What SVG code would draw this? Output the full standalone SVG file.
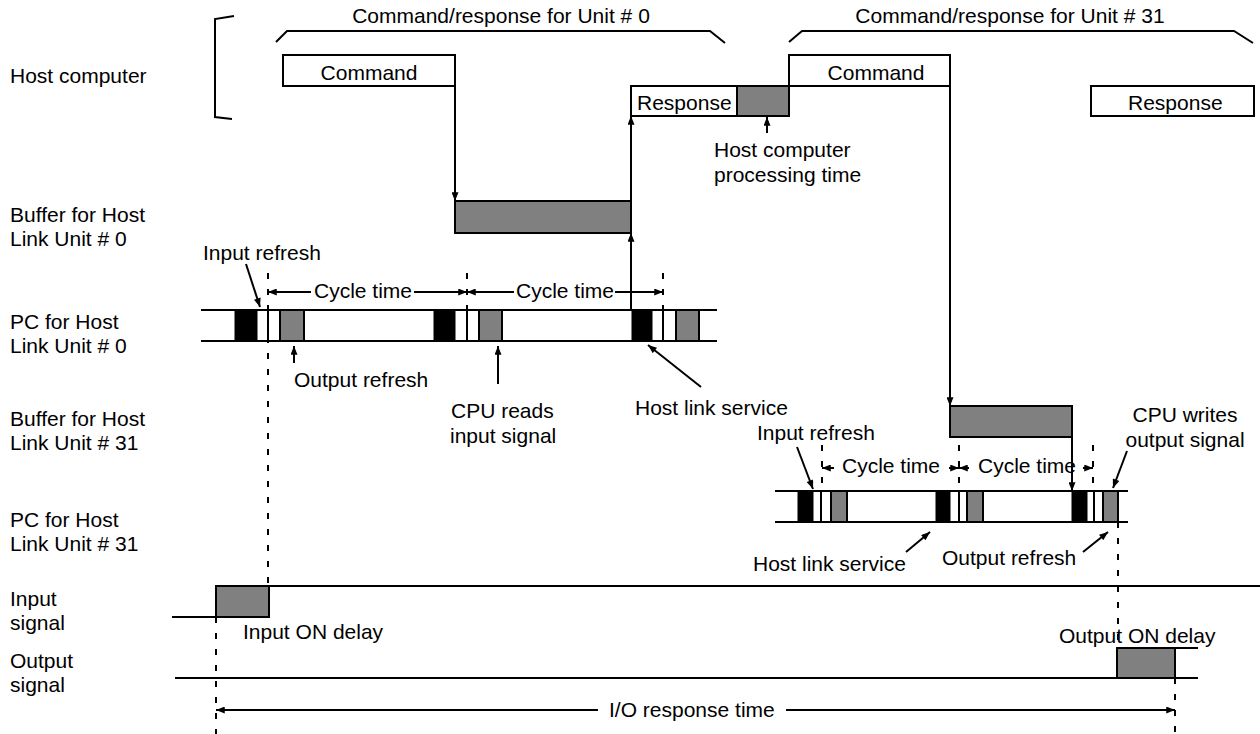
<svg xmlns="http://www.w3.org/2000/svg" width="1260" height="734" viewBox="0 0 1260 734">
<defs>
<marker id="ah" viewBox="0 0 10 8" refX="10" refY="4" markerWidth="10" markerHeight="7" markerUnits="userSpaceOnUse" orient="auto"><path d="M0,0 L10,4 L0,8 z" fill="#000"/></marker>
</defs>
<style>
text{font-family:"Liberation Sans",Arial,sans-serif;font-size:21px;fill:#000}
.mid{text-anchor:middle}
.ln{stroke:#000;stroke-width:2;fill:none}
.thin{stroke:#000;stroke-width:1.5;fill:none}
.box{fill:#fff;stroke:#000;stroke-width:2}
.grey{fill:#808080;stroke:#000;stroke-width:2}
.blk{fill:#000;stroke:#000;stroke-width:1}
.dash{stroke:#000;stroke-width:2;stroke-dasharray:6 10;fill:none}
.arr{stroke:#000;stroke-width:2;fill:none;marker-end:url(#ah)}
</style>
<rect x="0" y="0" width="1260" height="734" fill="#fff"/>

<g id="row-labels">
<text x="10" y="83">Host computer</text>
<text x="10" y="222">Buffer for Host</text><text x="10" y="246">Link Unit # 0</text>
<text x="10" y="329">PC for Host</text><text x="10" y="353">Link Unit # 0</text>
<text x="10" y="426">Buffer for Host</text><text x="10" y="450">Link Unit # 31</text>
<text x="10" y="527">PC for Host</text><text x="10" y="551">Link Unit # 31</text>
<text x="10" y="606">Input</text><text x="10" y="630">signal</text>
<text x="10" y="668">Output</text><text x="10" y="692">signal</text>
</g>

<g id="host-bracket">
<polyline class="ln" points="234,16 215,19 215,117 232,119"/>
</g>

<g id="brace-unit0">
<polyline class="ln" points="276,42 287,31 710,31 725,43"/>
<text class="mid" x="501" y="23">Command/response for Unit # 0</text>
</g>
<g id="brace-unit31">
<polyline class="ln" points="789,42 802,31 1234,31 1253,43"/>
<text class="mid" x="1010" y="23">Command/response for Unit # 31</text>
</g>

<g id="command0">
<rect class="box" x="283" y="55" width="172" height="31"/>
<text class="mid" x="369" y="80">Command</text>
</g>
<g id="response0">
<rect class="box" x="631" y="86" width="106" height="30"/>
<text x="637" y="110">Response</text>
</g>
<g id="host-processing">
<rect class="grey" x="737" y="86" width="52" height="30"/>
<text x="714" y="157">Host computer</text>
<text x="714" y="182">processing time</text>
</g>
<g id="command31">
<rect class="box" x="789" y="55" width="161" height="31"/>
<text class="mid" x="876" y="80">Command</text>
</g>
<g id="response31">
<rect class="box" x="1091" y="86" width="163" height="30"/>
<text x="1128" y="110">Response</text>
</g>

<g id="buffer0">
<rect class="grey" x="455" y="201" width="176" height="32"/>
</g>
<g id="buffer31">
<rect class="grey" x="950" y="406" width="122" height="31"/>
</g>

<g id="pc0">
<line class="ln" x1="201" y1="310" x2="717" y2="310"/>
<line class="ln" x1="201" y1="341" x2="717" y2="341"/>
<rect class="blk" x="235" y="310" width="22" height="31"/>
<rect class="blk" x="434" y="310" width="21" height="31"/>
<rect class="blk" x="632" y="310" width="20" height="31"/>
<line class="ln" x1="268" y1="310" x2="268" y2="341"/>
<line class="ln" x1="467" y1="310" x2="467" y2="341"/>
<line class="ln" x1="663" y1="310" x2="663" y2="341"/>
<rect class="grey" x="280" y="310" width="24" height="31"/>
<rect class="grey" x="479" y="310" width="23" height="31"/>
<rect class="grey" x="676" y="310" width="23" height="31"/>
<line class="dash" x1="467" y1="273" x2="467" y2="310"/>
<line class="dash" x1="663" y1="273" x2="663" y2="310"/>
<line class="arr" x1="311" y1="292" x2="268" y2="292"/>
<text x="314" y="298">Cycle time</text>
<line class="arr" x1="414" y1="292" x2="467" y2="292"/>
<line class="arr" x1="514" y1="292" x2="467" y2="292"/>
<text x="516" y="298">Cycle time</text>
<line class="arr" x1="615" y1="292" x2="663" y2="292"/>
<text x="203" y="260">Input refresh</text>
<text x="294" y="387">Output refresh</text>
<text x="451" y="418">CPU reads</text>
<text x="450" y="443">input signal</text>
<text x="635" y="415">Host link service</text>
</g>

<g id="pc31">
<line class="ln" x1="775" y1="491" x2="1128" y2="491"/>
<line class="ln" x1="775" y1="522" x2="1128" y2="522"/>
<rect class="blk" x="798" y="491" width="15" height="31"/>
<rect class="blk" x="936" y="491" width="14" height="31"/>
<rect class="blk" x="1072" y="491" width="15" height="31"/>
<line class="ln" x1="821" y1="491" x2="821" y2="522"/>
<line class="ln" x1="959" y1="491" x2="959" y2="522"/>
<line class="ln" x1="1094" y1="491" x2="1094" y2="522"/>
<rect class="grey" x="831" y="491" width="16" height="31"/>
<rect class="grey" x="967" y="491" width="16" height="31"/>
<rect class="grey" x="1103" y="491" width="15" height="31"/>
<line class="dash" x1="822" y1="445" x2="822" y2="491"/>
<line class="dash" x1="959" y1="445" x2="959" y2="491"/>
<line class="dash" x1="1093" y1="445" x2="1093" y2="491"/>
<line class="arr" x1="834" y1="468" x2="822" y2="468"/>
<text x="842" y="473">Cycle time</text>
<line class="arr" x1="949" y1="468" x2="959" y2="468"/>
<line class="arr" x1="969" y1="468" x2="959" y2="468"/>
<text x="978" y="473">Cycle time</text>
<line class="arr" x1="1083" y1="468" x2="1093" y2="468"/>
<text x="757" y="440">Input refresh</text>
<text class="mid" x="1185" y="422">CPU writes</text>
<text class="mid" x="1185" y="447">output signal</text>
<text x="753" y="571">Host link service</text>
<text x="942" y="565">Output refresh</text>
</g>

<g id="input-signal">
<line class="ln" x1="172" y1="617" x2="216" y2="617"/>
<line class="ln" x1="216" y1="586" x2="1260" y2="586"/>
<rect class="grey" x="216" y="586" width="53" height="31"/>
<text x="243" y="639">Input ON delay</text>
</g>
<g id="output-signal">
<line class="ln" x1="175" y1="678" x2="1198" y2="678"/>
<line class="ln" x1="1117" y1="648" x2="1198" y2="648"/>
<rect class="grey" x="1117" y="648" width="58" height="30"/>
<text x="1059" y="643">Output ON delay</text>
</g>
<g id="io-response">
<text x="609" y="717">I/O response time</text>
</g>

<g id="connectors">
<line class="arr" x1="455" y1="86" x2="455" y2="201"/>
<line class="arr" x1="631" y1="310" x2="631" y2="233"/>
<line class="arr" x1="631" y1="201" x2="631" y2="116"/>
<line class="arr" x1="950" y1="86" x2="950" y2="406"/>
<line class="arr" x1="1072" y1="437" x2="1072" y2="491"/>
<line class="arr" x1="767" y1="133" x2="767" y2="117"/>
<line class="arr" x1="246" y1="264" x2="260" y2="307"/>
<line class="arr" x1="294" y1="363" x2="294" y2="346"/>
<line class="arr" x1="498" y1="384" x2="498" y2="346"/>
<line class="arr" x1="701" y1="387" x2="648" y2="345"/>
<line class="arr" x1="797" y1="447" x2="813" y2="489"/>
<line class="arr" x1="1127" y1="451" x2="1113" y2="488"/>
<line class="arr" x1="906" y1="552" x2="930" y2="532"/>
<line class="arr" x1="1083" y1="552" x2="1108" y2="532"/>
<line class="dash" x1="268" y1="273" x2="268" y2="586"/>
<line class="dash" x1="1118" y1="522" x2="1118" y2="648"/>
<line class="dash" x1="216" y1="617" x2="216" y2="734"/>
<line class="dash" x1="1175" y1="678" x2="1175" y2="734"/>
<line class="arr" x1="598" y1="710" x2="216" y2="710"/>
<line class="arr" x1="786" y1="710" x2="1175" y2="710"/>
</g>
</svg>
